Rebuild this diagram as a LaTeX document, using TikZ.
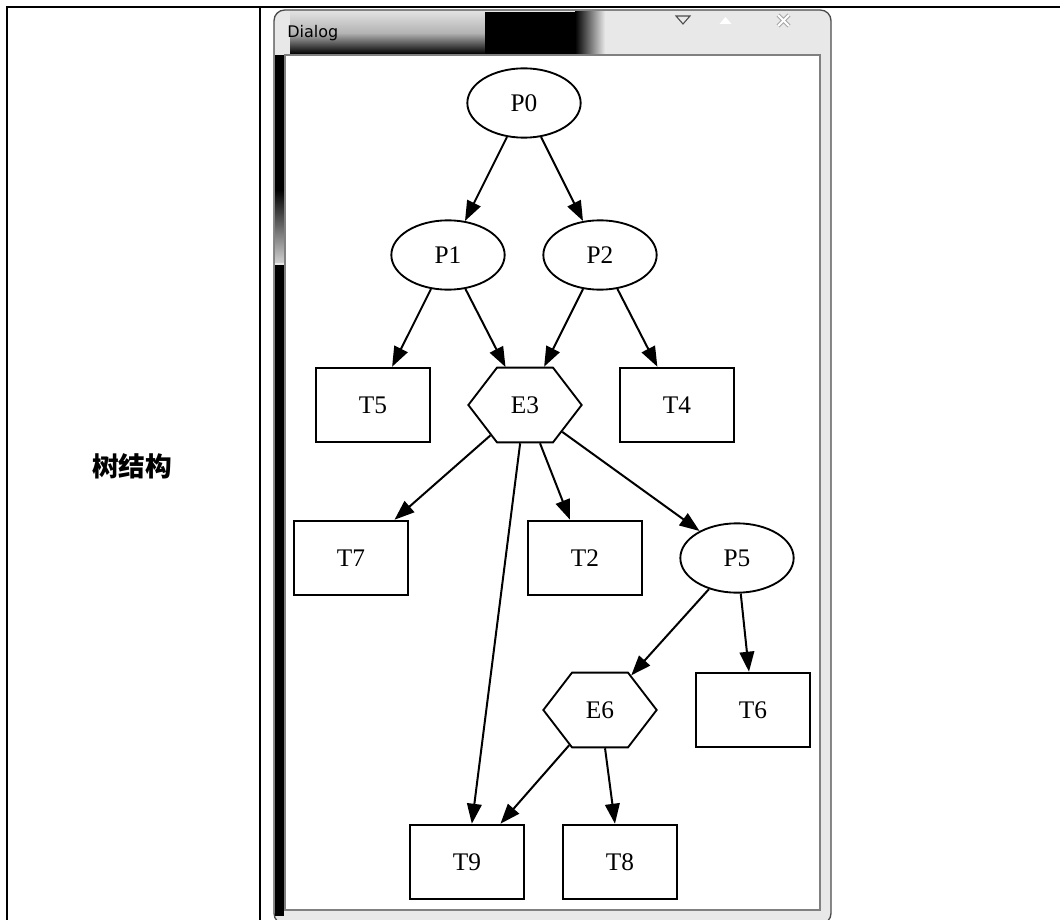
\documentclass[tikz,border=0pt]{standalone}
\usepackage{fontspec}
\setmainfont{Liberation Serif}
\newfontfamily\uifont{DejaVu Sans}
\newfontfamily\cjk{Noto Sans CJK SC}
\usetikzlibrary{shapes.geometric,shapes.symbols,arrows.meta}

\begin{document}
\begin{tikzpicture}[x=0.75pt,y=-0.75pt,
    >={Triangle[length=15pt,width=11pt]},
    every node/.style={font=\fontsize{19}{22}\selectfont},
    place/.style={ellipse,draw,line width=1.4pt,minimum width=85pt,minimum height=52pt,inner sep=0pt},
    task/.style={rectangle,draw,line width=1.4pt,minimum width=85pt,minimum height=56pt,inner sep=0pt},
    event/.style={signal,signal to=west and east,signal pointer angle=105,draw,line width=1.4pt,
      minimum width=85pt,minimum height=56pt,inner sep=0pt}]
  \useasboundingbox (0,0) rectangle (1060,920);
  % table
  \draw[line width=2.2pt] (6,7) -- (1060,7);
  \draw[line width=2.2pt] (7,7) -- (7,920);
  \draw[line width=2.2pt] (260,7) -- (260,920);
  \node[font=\cjk\bfseries\fontsize{20}{24}\selectfont] (title) at (132,466) {树结构};
  % window
  \fill[gray!18,rounded corners=8pt] (274,10) rectangle (831,924);
  \shade[top color=gray!25,bottom color=black,middle color=gray!60] (290,12) rectangle (485,54);
  \fill[black] (485,12) rectangle (575,54);
  \shade[left color=black,right color=gray!18] (575,12) rectangle (605,54);
  \draw[black!70,line width=1pt,rounded corners=8pt] (274,10) rectangle (831,924);
  \fill[black] (275,55) rectangle (284,190);
  \shade[top color=black,bottom color=gray!40] (275,190) rectangle (284,262);
  \fill[black] (275,265) rectangle (284,916);
  \fill[white] (285,55) rectangle (820,910);
  \draw[gray,line width=1.5pt] (285,55) rectangle (820,910);
  \node[font=\uifont\fontsize{12}{14}\selectfont,anchor=west,inner sep=0pt] (dialog) at (287,33) {Dialog};
  \draw[gray!60!black,line width=0.8pt] (676,16) -- (690,16) -- (683,24) -- cycle;
  \fill[white] (719.5,24) -- (731.5,24) -- (725.5,17) -- cycle;
  \draw[gray!70,line width=3pt] (778,15) -- (789,26) (778,26) -- (789,15);
  \draw[white,line width=1.4pt] (778,15) -- (789,26) (778,26) -- (789,15);
  % graph
  \node[place] (P0) at (524,103) {P0};
  \node[place] (P1) at (448,255) {P1};
  \node[place] (P2) at (600,255) {P2};
  \node[task] (T5) at (373,405) {T5};
  \node[event] (E3) at (525,405) {E3};
  \node[task] (T4) at (677,405) {T4};
  \node[task] (T7) at (351,558) {T7};
  \node[task] (T2) at (585,558) {T2};
  \node[place] (P5) at (737,558) {P5};
  \node[event] (E6) at (600,710) {E6};
  \node[task] (T6) at (753,710) {T6};
  \node[task] (T9) at (467,862) {T9};
  \node[task] (T8) at (620,862) {T8};
  \begin{scope}[->,line width=1.5pt]
    \draw (P0) -- (P1);
    \draw (P0) -- (P2);
    \draw (P1) -- (T5);
    \draw (P1) -- (E3);
    \draw (P2) -- (E3);
    \draw (P2) -- (T4);
    \draw (E3) -- (T7);
    \draw (E3) -- (T9);
    \draw (E3) -- (T2);
    \draw (E3) -- (P5);
    \draw (P5) -- (E6);
    \draw (P5) -- (T6);
    \draw (E6) -- (T9);
    \draw (E6) -- (T8);
  \end{scope}
\end{tikzpicture}
\end{document}
